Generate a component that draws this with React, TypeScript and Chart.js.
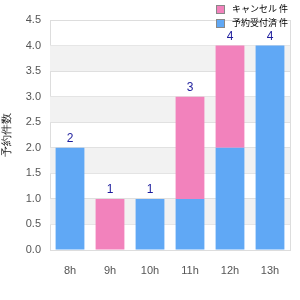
import React, { useEffect, useRef } from "react";
import { Chart, registerables } from "chart.js";

Chart.register(...registerables);

const categories = ["8h", "9h", "10h", "11h", "12h", "13h"];
const blueValues = [2, 0, 1, 1, 2, 4];
const pinkValues = [0, 1, 0, 2, 2, 0];
const blueLabel = "予約受付済 件";
const pinkLabel = "キャンセル 件";
const yTitle = "予約件数";
const bandRanges = [[0.5, 1], [1.5, 2], [2.5, 3], [3.5, 4]];

const BLUE = "rgb(96,168,245)";
const PINK = "rgb(242,130,188)";

const bandsPlugin = {
  id: "bands",
  beforeDatasetsDraw(chart: any) {
    const { ctx, chartArea, scales } = chart;
    const y = scales.y;
    ctx.save();
    ctx.fillStyle = "#f2f2f2";
    for (const [a, b] of bandRanges) {
      const y1 = y.getPixelForValue(b);
      const y2 = y.getPixelForValue(a);
      ctx.fillRect(chartArea.left, y1, chartArea.right - chartArea.left, y2 - y1);
    }
    ctx.restore();
  },
  afterDatasetsDraw(chart: any) {
    const { ctx, chartArea, scales } = chart;
    ctx.save();
    ctx.strokeStyle = "#dddddd";
    ctx.lineWidth = 1;
    ctx.beginPath();
    ctx.moveTo(Math.round(chartArea.right) + 0.5, chartArea.top);
    ctx.lineTo(Math.round(chartArea.right) + 0.5, chartArea.bottom);
    ctx.stroke();
    // totals
    ctx.fillStyle = "#1c1c9c";
    ctx.font = "12px 'Helvetica Neue', Helvetica, Arial, sans-serif";
    ctx.textAlign = "center";
    ctx.textBaseline = "bottom";
    categories.forEach((_, i) => {
      const total = blueValues[i] + pinkValues[i];
      const x = scales.x.getPixelForValue(i);
      const yy = scales.y.getPixelForValue(total);
      ctx.fillText(String(total), x, yy - 3);
    });
    ctx.restore();
  },
};

export default function App() {
  const ref = useRef<HTMLCanvasElement>(null);
  useEffect(() => {
    document.body.style.margin = "0";
    const chart = new Chart(ref.current!, {
      type: "bar",
      data: {
        labels: categories,
        datasets: [
          { label: blueLabel, data: blueValues, backgroundColor: BLUE, categoryPercentage: 0.8, barPercentage: 0.9 },
          { label: pinkLabel, data: pinkValues, backgroundColor: PINK, categoryPercentage: 0.8, barPercentage: 0.9 },
        ],
      },
      options: {
        animation: false,
        responsive: false,
        layout: { padding: { top: 20, right: 10, left: 0, bottom: 0 } },
        plugins: { legend: { display: false }, tooltip: { enabled: false } },
        scales: {
          x: {
            stacked: true,
            grid: { display: false },
            border: { color: "#dddddd" },
            ticks: { color: "#555", font: { size: 11 }, padding: 6 },
            afterFit: (s: any) => { s.height = 50; },
          },
          y: {
            stacked: true,
            min: 0,
            max: 4.5,
            ticks: { stepSize: 0.5, color: "#555", font: { size: 11 }, padding: 9, callback: (v: any) => Number(v).toFixed(1) },
            grid: { color: "#dddddd", drawTicks: false },
            border: { color: "#dddddd" },
            title: { display: true, text: yTitle, color: "#222", font: { size: 11 }, padding: { top: 0, bottom: 0 } },
            afterFit: (s: any) => { s.width = 50; },
          },
        },
      },
      plugins: [bandsPlugin],
    });
    return () => chart.destroy();
  }, []);

  const item = (color: string, text: string) => (
    <div style={{ display: "flex", alignItems: "center", height: 14 }}>
      <span style={{ display: "inline-block", width: 7, height: 7, background: color, border: "1px solid #888", marginRight: 7 }} />
      <span>{text}</span>
    </div>
  );

  return (
    <div style={{ position: "fixed", left: 0, top: 0, width: 300, height: 300, background: "#fff" }}>
      <canvas ref={ref} width={300} height={300} style={{ width: 300, height: 300 }} />
      <div style={{ position: "absolute", right: 12, top: 2, fontFamily: "'Noto Sans CJK JP', sans-serif", fontSize: 9, color: "#000", lineHeight: "14px" }}>
        {item(PINK, pinkLabel)}
        {item(BLUE, blueLabel)}
      </div>
    </div>
  );
}
